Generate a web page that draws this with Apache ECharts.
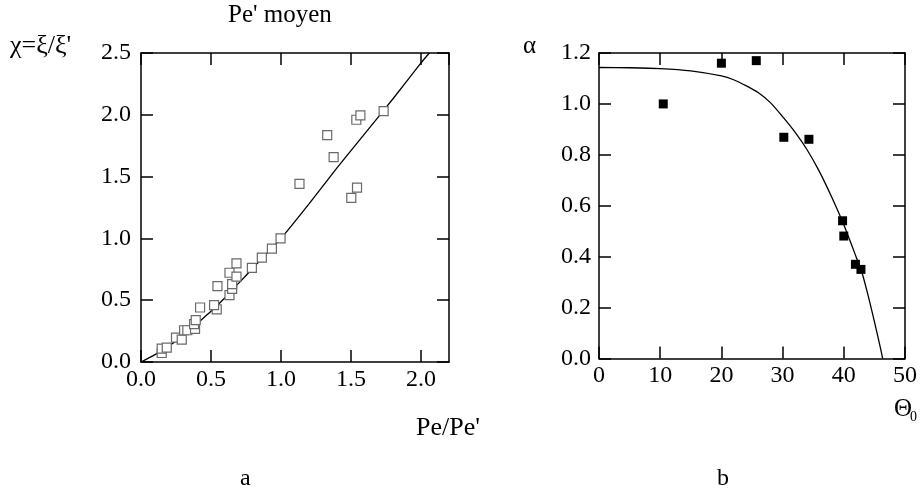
<!DOCTYPE html>
<html>
<head>
<meta charset="utf-8">
<script src="https://cdn.jsdelivr.net/npm/echarts@6/dist/echarts.min.js"></script>
<style>
  html, body { margin: 0; padding: 0; background: #fff; }
  #chart { width: 923px; height: 493px; }
</style>
</head>
<body>
<div id="chart"></div>
<script>
// panel a : chi = xi/xi' vs Pe/Pe'
const pePoints = [
  [0.148, 0.073], [0.148, 0.108], [0.184, 0.117], [0.25, 0.198], [0.291, 0.181],
  [0.308, 0.257], [0.331, 0.257], [0.386, 0.268], [0.379, 0.306], [0.391, 0.338],
  [0.422, 0.441], [0.541, 0.425], [0.522, 0.46], [0.546, 0.614], [0.632, 0.541],
  [0.651, 0.592], [0.651, 0.63], [0.632, 0.722], [0.682, 0.69], [0.682, 0.798],
  [0.792, 0.762], [0.863, 0.844], [0.935, 0.917], [0.997, 1.0], [1.132, 1.441],
  [1.502, 1.328], [1.543, 1.411], [1.376, 1.658], [1.33, 1.836], [1.538, 1.96],
  [1.567, 1.995], [1.733, 2.03]
];
const peCurve = [
  [0, 0], [0.1, 0.06], [0.2, 0.13], [0.3, 0.21], [0.4, 0.31], [0.5, 0.41],
  [0.6, 0.52], [0.7, 0.64], [0.8, 0.76], [0.9, 0.88], [1.0, 1.0], [1.2, 1.28],
  [1.4, 1.57], [1.6, 1.85], [1.8, 2.13], [2.0, 2.42], [2.06, 2.5]
];

// panel b : alpha vs Theta0
const alphaPoints = [
  [10.5, 1.0], [20.0, 1.16], [25.7, 1.17], [30.2, 0.869], [34.3, 0.861],
  [39.8, 0.541], [40.0, 0.481], [41.9, 0.37], [42.8, 0.35]
];
const alphaCurve = [
  [0, 1.143], [5, 1.142], [10, 1.139], [15, 1.13], [20, 1.11], [22, 1.095],
  [24, 1.072], [26, 1.045], [28, 1.005], [30, 0.95], [32, 0.89], [34, 0.82],
  [36, 0.735], [38, 0.635], [40, 0.525], [42, 0.4], [43, 0.335], [44, 0.245],
  [45, 0.145], [46, 0.04], [46.35, 0]
];

const serif = 'Liberation Serif';
const black = '#000';

function axis(opts) {
  const { grid, pos, min, max, interval, labels, margin, digits } = opts;
  return {
    type: 'value',
    gridIndex: grid,
    position: pos,
    min, max, interval,
    axisLine: { show: true, onZero: false, lineStyle: { color: black, width: 1.5 } },
    axisTick: { show: true, inside: true, length: 12, lineStyle: { color: black, width: 1.5 } },
    axisLabel: {
      show: labels,
      margin,
      color: black,
      fontFamily: serif,
      fontSize: 24,
      formatter: v => v.toFixed(digits)
    },
    splitLine: { show: false }
  };
}

const chart = echarts.init(document.getElementById('chart'));

const option = {
  animation: false,
  backgroundColor: '#fff',
  grid: [
    { left: 141, top: 53, width: 308, height: 309 },
    { left: 599, top: 53, width: 306, height: 305.5 }
  ],
  xAxis: [
    axis({ grid: 0, pos: 'bottom', min: 0, max: 2.2, interval: 0.5, labels: true, margin: 6, digits: 1 }),
    axis({ grid: 0, pos: 'top', min: 0, max: 2.2, interval: 0.5, labels: false, digits: 1 }),
    axis({ grid: 1, pos: 'bottom', min: 0, max: 50, interval: 10, labels: true, margin: 5, digits: 0 }),
    axis({ grid: 1, pos: 'top', min: 0, max: 50, interval: 10, labels: false, digits: 0 })
  ],
  yAxis: [
    axis({ grid: 0, pos: 'left', min: 0, max: 2.5, interval: 0.5, labels: true, margin: 10, digits: 1 }),
    axis({ grid: 0, pos: 'right', min: 0, max: 2.5, interval: 0.5, labels: false, digits: 1 }),
    axis({ grid: 1, pos: 'left', min: 0, max: 1.2, interval: 0.2, labels: true, margin: 8, digits: 1 }),
    axis({ grid: 1, pos: 'right', min: 0, max: 1.2, interval: 0.2, labels: false, digits: 1 })
  ],
  series: [
    {
      type: 'line',
      xAxisIndex: 0, yAxisIndex: 0,
      data: peCurve,
      smooth: 0.25,
      symbol: 'none',
      lineStyle: { color: black, width: 1.3 },
      z: 2
    },
    {
      type: 'scatter',
      xAxisIndex: 0, yAxisIndex: 0,
      data: pePoints,
      symbol: 'rect',
      symbolSize: 9,
      itemStyle: { color: '#fff', borderColor: '#6a6a6a', borderWidth: 1.2, opacity: 1 },
      z: 3
    },
    {
      type: 'line',
      xAxisIndex: 2, yAxisIndex: 2,
      data: alphaCurve,
      smooth: 0.25,
      symbol: 'none',
      lineStyle: { color: black, width: 1.3 },
      z: 2
    },
    {
      type: 'scatter',
      xAxisIndex: 2, yAxisIndex: 2,
      data: alphaPoints,
      symbol: 'rect',
      symbolSize: 9,
      itemStyle: { color: black, opacity: 1 },
      z: 3
    }
  ],
  graphic: [
    { type: 'text', left: 228, top: 3, style: { text: "Pe' moyen", font: '25px "Liberation Serif"', fill: black } },
    { type: 'text', left: 10, top: 33, style: { text: "χ=ξ/ξ'", font: '26px "Liberation Serif"', fill: black } },
    { type: 'text', left: 416, top: 415, style: { text: "Pe/Pe'", font: '26px "Liberation Serif"', fill: black } },
    { type: 'text', left: 240, top: 467, style: { text: 'a', font: '24px "Liberation Serif"', fill: black } },
    { type: 'text', left: 717, top: 467, style: { text: 'b', font: '24px "Liberation Serif"', fill: black } },
    { type: 'text', left: 523, top: 34, style: { text: 'α', font: '25px "Liberation Serif"', fill: black } },
    { type: 'text', left: 894, top: 397, style: { text: 'Θ', font: '25px "Liberation Serif"', fill: black } },
    { type: 'text', left: 910, top: 410, style: { text: '0', font: '14px "Liberation Serif"', fill: black } }
  ]
};

chart.setOption(option);
</script>
</body>
</html>
